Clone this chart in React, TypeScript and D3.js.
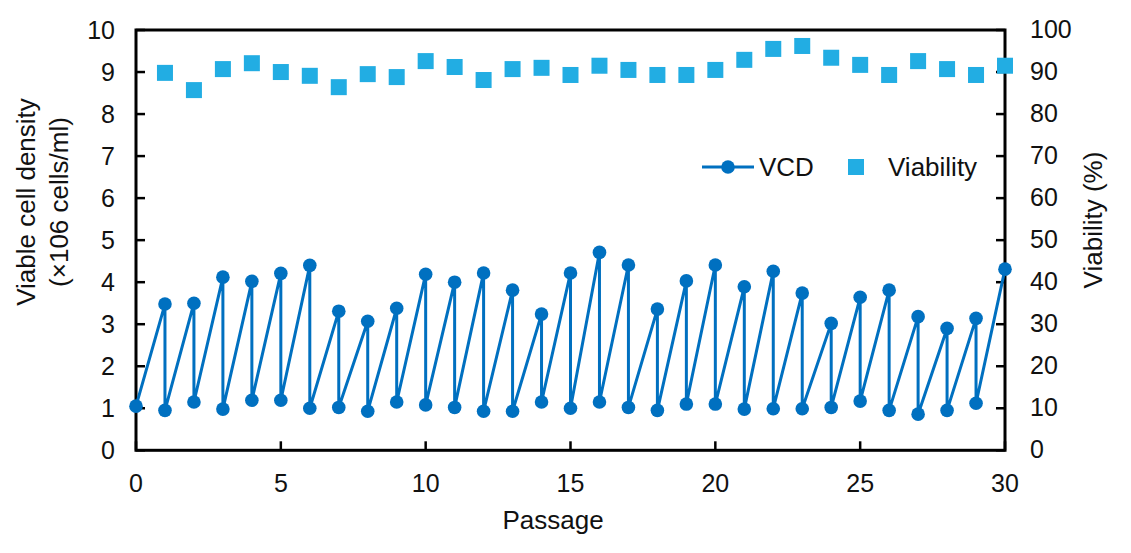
import React from 'react';
import { scaleLinear, line } from 'd3';

// passage numbers for the split points
const passages = [
  0, 1, 2, 3, 4, 5, 6, 7, 8, 9, 10, 11, 12, 13, 14, 15, 16, 17, 18, 19, 20,
  21, 22, 23, 24, 25, 26, 27, 28, 29, 30,
];
// VCD right after seeding (passages 0..29), ×10^6 cells/ml
const seedVcd = [
  1.05, 0.95, 1.15, 0.98, 1.19, 1.19, 1.0, 1.02, 0.93, 1.15, 1.08, 1.02, 0.93,
  0.93, 1.15, 1.0, 1.15, 1.02, 0.95, 1.1, 1.1, 0.98, 0.99, 0.99, 1.02, 1.17,
  0.95, 0.86, 0.95, 1.12,
];
// VCD at harvest, before the split (passages 1..30)
const peakVcd = [
  3.48, 3.5, 4.12, 4.02, 4.21, 4.4, 3.31, 3.07, 3.38, 4.19, 4.0, 4.22, 3.81,
  3.24, 4.22, 4.71, 4.41, 3.36, 4.03, 4.41, 3.89, 4.26, 3.74, 3.02, 3.64, 3.81,
  3.18, 2.9, 3.14, 4.31,
];
// viability at harvest, % (passages 1..30)
const viability = [
  89.8, 85.7, 90.7, 92.1, 90.0, 89.1, 86.4, 89.5, 88.8, 92.6, 91.2, 88.1, 90.7,
  91.0, 89.3, 91.5, 90.5, 89.3, 89.3, 90.5, 92.9, 95.5, 96.2, 93.4, 91.7, 89.3,
  92.6, 90.7, 89.3, 91.5,
];
const xTicks = [0, 5, 10, 15, 20, 25, 30];
const leftTicks = [0, 1, 2, 3, 4, 5, 6, 7, 8, 9, 10];
const rightTicks = [0, 10, 20, 30, 40, 50, 60, 70, 80, 90, 100];

const W = 1131;
const H = 553;
const FONT = '"Liberation Sans", Arial, sans-serif';
const DARK = '#0070c0';
const LIGHT = '#22ade3';

export default function App() {
  const x = scaleLinear().domain([0, 30]).range([136, 1005]);
  const yL = scaleLinear().domain([0, 10]).range([450.3, 30]);
  const yR = scaleLinear().domain([0, 100]).range([450.3, 30]);

  // sawtooth: rise from seed to peak, then drop straight down at the split
  const pts: [number, number][] = [[0, seedVcd[0]]];
  for (let i = 1; i < passages.length; i++) {
    pts.push([passages[i], peakVcd[i - 1]]);
    if (i < seedVcd.length) pts.push([passages[i], seedVcd[i]]);
  }
  const vcdLine = line<[number, number]>()
    .x((d) => x(d[0]))
    .y((d) => yL(d[1]));

  const left = x(0);
  const right = x(30);
  const top = yL(10);
  const bottom = yL(0);

  return (
    <svg
      width={W}
      height={H}
      style={{ position: 'absolute', left: 0, top: 0, background: '#fff' }}
      fontFamily={FONT}
    >
      {/* frame */}
      <rect
        x={left}
        y={top}
        width={right - left}
        height={bottom - top}
        fill="none"
        stroke="#000"
        strokeWidth={3}
      />
      {xTicks.map((t) => (
        <g key={'x' + t}>
          <line x1={x(t)} x2={x(t)} y1={bottom} y2={bottom - 9} stroke="#000" strokeWidth={2.5} />
          <text x={x(t)} y={492} textAnchor="middle" fontSize={25} fill="#111">
            {t}
          </text>
        </g>
      ))}
      {leftTicks.map((t) => (
        <g key={'l' + t}>
          <line x1={left} x2={left + 9} y1={yL(t)} y2={yL(t)} stroke="#000" strokeWidth={2.5} />
          <text x={115} y={yL(t) + 8.5} textAnchor="end" fontSize={25} fill="#111">
            {t}
          </text>
        </g>
      ))}
      {rightTicks.map((t) => (
        <g key={'r' + t}>
          <line x1={right} x2={right - 9} y1={yR(t)} y2={yR(t)} stroke="#000" strokeWidth={2.5} />
          <text x={1030} y={yR(t) + 8} textAnchor="start" fontSize={25} fill="#111">
            {t}
          </text>
        </g>
      ))}

      {/* axis titles */}
      <text x={553} y={529} textAnchor="middle" fontSize={26} fill="#111">
        Passage
      </text>
      <text transform="translate(35,202) rotate(-90)" textAnchor="middle" fontSize={26} fill="#111">
        Viable cell density
      </text>
      <text transform="translate(68,202) rotate(-90)" textAnchor="middle" fontSize={26} fill="#111">
        (×106 cells/ml)
      </text>
      <text transform="translate(1102,220) rotate(-90)" textAnchor="middle" fontSize={26} fill="#111">
        Viability (%)
      </text>

      {/* viability */}
      {viability.map((v, i) => (
        <rect
          key={'v' + i}
          x={x(passages[i + 1]) - 8}
          y={yR(v) - 8}
          width={16}
          height={16}
          fill={LIGHT}
        />
      ))}

      {/* VCD */}
      <path d={vcdLine(pts) || ''} fill="none" stroke={DARK} strokeWidth={3} strokeLinejoin="round" />
      {pts.map((p, i) => (
        <circle key={'c' + i} cx={x(p[0])} cy={yL(p[1])} r={6.8} fill={DARK} />
      ))}

      {/* legend */}
      <line x1={702} x2={754} y1={167} y2={167} stroke={DARK} strokeWidth={3} />
      <circle cx={728} cy={167} r={6.8} fill={DARK} />
      <text x={759} y={176} fontSize={26} fill="#111">
        VCD
      </text>
      <rect x={848} y={159} width={16} height={16} fill={LIGHT} />
      <text x={888} y={176} fontSize={26} fill="#111">
        Viability
      </text>
    </svg>
  );
}
